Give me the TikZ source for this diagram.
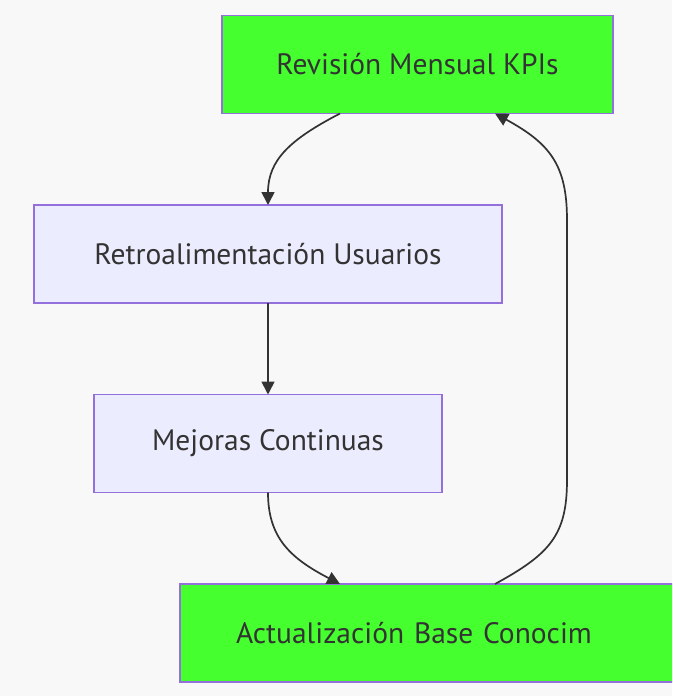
\documentclass[tikz,border=0pt]{standalone}
\usepackage{fontspec}
\setmainfont{PT Sans}
\usepackage{xcolor}
\usetikzlibrary{arrows.meta, positioning}

\definecolor{kpigreen}{HTML}{46FF2E}
\definecolor{lavender}{HTML}{ECECFF}
\definecolor{edgepurple}{HTML}{9370DB}
\definecolor{inkgray}{HTML}{333333}
\definecolor{paper}{HTML}{F8F8F8}

\tikzset{
  flowbox/.style={draw=edgepurple, line width=1.2pt, minimum height=98pt,
    outer sep=0pt, text=inkgray, font=\fontsize{29.5}{34}\selectfont},
  kpibox/.style={flowbox, fill=kpigreen},
  procbox/.style={flowbox, fill=lavender},
  link/.style={draw=inkgray, line width=1.7pt,
    -{Triangle[length=13pt,width=13pt]}}
}

\begin{document}
\begin{tikzpicture}[x=1pt, y=-1pt, node distance=91.5pt]
\useasboundingbox (0,0) rectangle (672,696);
\clip (0,0) rectangle (672,696);
\fill[paper] (0,0) rectangle (672,696);

\node[kpibox, minimum width=391pt] (revision) at (417.5,64.5) {Revisión Mensual KPIs};

\path node[procbox, minimum width=468pt, below = of revision, xshift=-149.5pt] (retro)
  {Retroalimentación Usuarios};
\path node[procbox, minimum width=348pt, below = of retro] (mejoras)
  {Mejoras Continuas};
\path node[kpibox, text width=430pt, align=left, inner xsep=56pt,
  below = of mejoras, xshift=183pt] (actual)
  {Actualización Base Conocim};

\draw[link] ([xshift=-77.5pt]revision.south) .. controls +(-50,26) and +(0,-45) .. (retro.north);
\draw[link] (retro.south) -- (mejoras.north);
\draw[link] (mejoras.south) .. controls +(0,45) and +(-50,-26) .. ([xshift=-111pt]actual.north);
\draw[link] ([xshift=44pt]actual.north) .. controls +(55,-30) and +(0,55) .. (567,480)
  -- (567,220) .. controls +(0,-55) and +(55,30) .. ([xshift=77.5pt]revision.south);% loop back up the right side
\end{tikzpicture}
\end{document}
